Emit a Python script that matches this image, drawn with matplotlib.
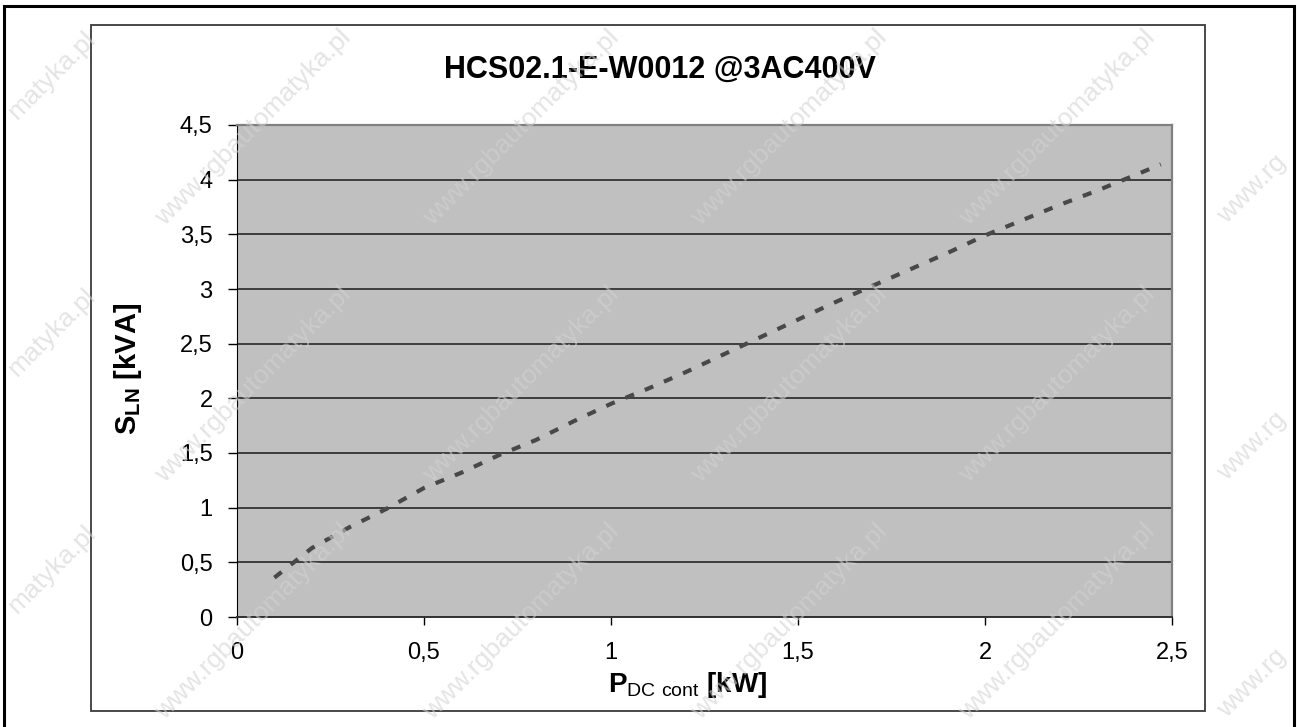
import matplotlib
matplotlib.use("Agg")
import matplotlib.pyplot as plt
from matplotlib.patches import Rectangle

plt.rcParams["font.family"] = ["Liberation Sans", "DejaVu Sans"]
plt.rcParams["mathtext.fontset"] = "custom"
plt.rcParams["mathtext.rm"] = "Liberation Sans"
plt.rcParams["mathtext.bf"] = "Liberation Sans:bold"

# data
p_dc = [0.1, 0.2, 0.3, 0.4, 0.5, 0.6, 0.7, 0.8, 0.9, 1.0, 1.1, 1.2,
        1.3, 1.4, 1.5, 1.6, 1.7, 1.8, 1.9, 2.0, 2.1, 2.2, 2.3, 2.4, 2.47]
s_ln = [0.36, 0.63, 0.82, 0.99, 1.18, 1.32, 1.48, 1.62, 1.79, 1.95, 2.09, 2.24,
        2.40, 2.56, 2.72, 2.88, 3.03, 3.18, 3.33, 3.49, 3.63, 3.77, 3.90, 4.04, 4.14]

x_ticks = [0, 0.5, 1, 1.5, 2, 2.5]
y_ticks = [0, 0.5, 1, 1.5, 2, 2.5, 3, 3.5, 4, 4.5]
x_labels = ["0", "0,5", "1", "1,5", "2", "2,5"]
y_labels = ["0", "0,5", "1", "1,5", "2", "2,5", "3", "3,5", "4", "4,5"]

title = "HCS02.1-E-W0012 @3AC400V"
watermark = "www.rgbautomatyka.pl"
wm_left = "matyka.pl"   # part of the watermark visible at the left edge
wm_right = "www.rg"     # part visible at the right edge

W, H = 1297, 727
fig = plt.figure(figsize=(W / 100, H / 100), dpi=100)
fig.patch.set_facecolor("white")

ax = fig.add_axes([237 / W, 1 - 617 / H, 935 / W, 492 / H])
ax.set_facecolor("#c0c0c0")

ax.plot(p_dc, s_ln, color="#484848", lw=3.0, linestyle=(0, (2.2, 2.8)),
        dash_capstyle="butt", solid_joinstyle="miter", zorder=3, clip_on=False)

ax.set_xlim(0, 2.5)
ax.set_ylim(0, 4.5)
ax.set_xticks(x_ticks)
ax.set_xticklabels(x_labels)
ax.set_yticks(y_ticks)
ax.set_yticklabels(y_labels)
ax.tick_params(axis="y", direction="out", length=6.5, width=1, pad=11, labelsize=17)
ax.tick_params(axis="x", direction="out", length=6, width=1, pad=12, labelsize=17)

ax.grid(axis="y", color="#1a1a1a", lw=1.1)
ax.set_axisbelow(True)

ax.spines["left"].set_color("black")
ax.spines["bottom"].set_color("#333333")
ax.spines["bottom"].set_linewidth(1.4)
for side in ["top", "right"]:
    ax.spines[side].set_color("#808080")
    ax.spines[side].set_linewidth(1.6)

ax.set_ylabel(r"$\mathbf{S}_{\mathbf{LN}}$ [kVA]", fontsize=21, fontweight="bold")
ax.yaxis.set_label_coords(-0.099, 0.504)
ax.set_xlabel(r"$\mathbf{P}_{\mathrm{DC\ cont}}$ [kW]", fontsize=20, fontweight="bold")
ax.xaxis.set_label_coords(0.482, -0.108)

fig.text(660 / W, 1 - 78 / H, title, ha="center", va="baseline",
         fontsize=22, fontweight="bold")

# chart frame and outer page border
fig.patches.append(Rectangle((91 / W, 1 - 711 / H), (1205 - 91) / W, (711 - 25) / H,
                             transform=fig.transFigure, fill=False,
                             edgecolor="#3a3a3a", lw=1.3, zorder=1))
fig.patches.append(Rectangle((4 / W, -0.02), (1294 - 4) / W, 1.02 - 6 / H,
                             transform=fig.transFigure, fill=False,
                             edgecolor="black", lw=2.2, zorder=1))

# faint repeated watermark
wm_style = dict(rotation=45, rotation_mode="anchor", va="center", fontsize=19,
                color="#d2d2d2", alpha=0.6, zorder=10)
for cy in [128, 385, 622]:
    for cx in [253, 521, 789, 1057]:
        fig.text(cx / W, 1 - cy / H, watermark, ha="center", **wm_style)
    fig.text(92 / W, 1 - (cy - 92) / H, wm_left, ha="right", **wm_style)
    fig.text(1222 / W, 1 - (cy + 92) / H, wm_right, ha="left", **wm_style)

fig.savefig("out.png", dpi=100)
